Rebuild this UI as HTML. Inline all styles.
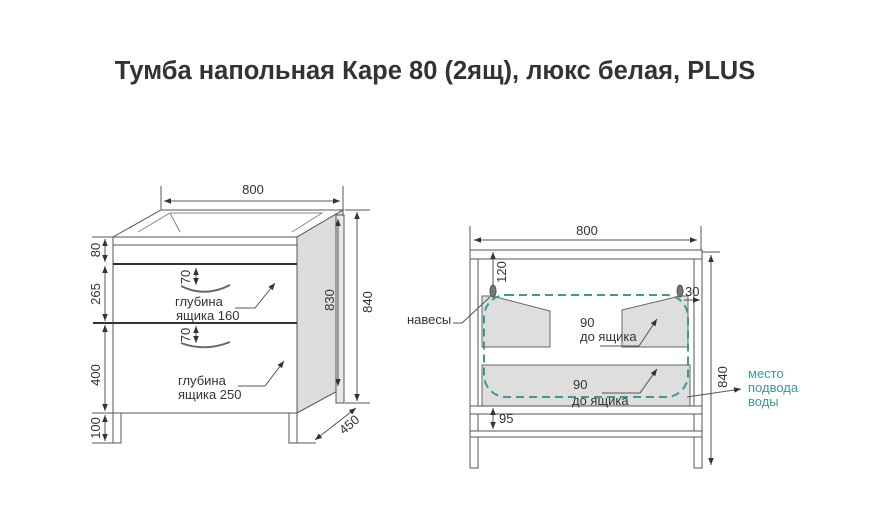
<!DOCTYPE html>
<html><head><meta charset="utf-8"><style>
body{margin:0;background:#fff;width:889px;height:528px;overflow:hidden}
svg{display:block}
text{font-family:"Liberation Sans",sans-serif;fill:#333}
</style></head><body>
<svg width="889" height="528" viewBox="0 0 889 528" xmlns="http://www.w3.org/2000/svg">
<defs>
<marker id="a" viewBox="0 0 10 10" refX="10" refY="5" markerWidth="7" markerHeight="7" orient="auto-start-reverse"><path d="M0,1 L10,5 L0,9 z" fill="#333"/></marker>
</defs>
<text x="435" y="79" font-size="25.5" font-weight="bold" text-anchor="middle" fill="#222">Тумба напольная Каре 80 (2ящ), люкс белая, PLUS</text>

<g stroke="#555" stroke-width="1" fill="none">
<!-- LEFT -->
<line x1="161" y1="186" x2="161" y2="212"/><line x1="343" y1="186" x2="343" y2="212"/>
<line x1="164" y1="201" x2="340" y2="201" marker-start="url(#a)" marker-end="url(#a)"/>
<path d="M113 237 L161 210 L343 210 L297 237 Z" fill="#fff"/>
<path d="M138 232 L170 213 L322 213 L292 232" stroke="#888"/>
<line x1="170" y1="213" x2="180" y2="232" stroke="#888"/>
<path d="M297 237 L343 210 L343 388 L297 413 Z" fill="#dcdcdc"/>
<rect x="336" y="215" width="8" height="188" fill="#e8e8e8"/>
<rect x="113" y="237" width="184" height="176" fill="#fff"/>
<line x1="113" y1="245" x2="297" y2="245"/>
<line x1="113" y1="264" x2="297" y2="264" stroke="#333" stroke-width="2"/>
<line x1="93" y1="323" x2="297" y2="323" stroke="#333" stroke-width="2"/>
<rect x="113" y="413" width="8" height="30" fill="#fff"/>
<rect x="289" y="413" width="8" height="30" fill="#fff"/>
<line x1="92" y1="237" x2="113" y2="237"/><line x1="92" y1="413" x2="113" y2="413"/><line x1="92" y1="443" x2="121" y2="443"/>
<line x1="105" y1="239" x2="105" y2="262" marker-start="url(#a)" marker-end="url(#a)"/>
<line x1="105" y1="266" x2="105" y2="321" marker-start="url(#a)" marker-end="url(#a)"/>
<line x1="105" y1="325" x2="105" y2="411" marker-start="url(#a)" marker-end="url(#a)"/>
<line x1="105" y1="415" x2="105" y2="441" marker-start="url(#a)" marker-end="url(#a)"/>
<line x1="196" y1="268" x2="196" y2="285" marker-start="url(#a)" marker-end="url(#a)"/>
<line x1="196" y1="326" x2="196" y2="343" marker-start="url(#a)" marker-end="url(#a)"/>
<path d="M181 286 Q205 298 230 285" stroke="#666" stroke-width="2"/>
<path d="M181 343 Q205 352 230 342" stroke="#666" stroke-width="2"/>
<path d="M235 308 L255 308 L275 283" marker-end="url(#a)"/>
<path d="M238 386 L265 386 L284 361" marker-end="url(#a)"/>
<line x1="357" y1="212" x2="357" y2="401" marker-start="url(#a)" marker-end="url(#a)"/>
<line x1="345" y1="210" x2="370" y2="210"/><line x1="345" y1="403" x2="370" y2="403"/>
<line x1="338" y1="219" x2="338" y2="386" marker-start="url(#a)" marker-end="url(#a)"/>
<line x1="315" y1="440" x2="356" y2="408" marker-start="url(#a)" marker-end="url(#a)"/>
<line x1="297" y1="443" x2="316" y2="443"/>

<!-- RIGHT -->
<line x1="470" y1="226" x2="470" y2="252"/><line x1="701" y1="226" x2="701" y2="252"/>
<line x1="474" y1="240" x2="697" y2="240" marker-start="url(#a)" marker-end="url(#a)"/>
<rect x="470" y="250" width="232" height="9" fill="#fff"/>
<rect x="470" y="259" width="8" height="209" fill="#fff"/>
<rect x="694" y="259" width="8" height="209" fill="#fff"/>
<path d="M482 296 L492 296 L550 311 L550 347 L482 347 Z" fill="#dedede" stroke="#666"/>
<path d="M622 310 L680 296 L688 296 L688 347 L622 347 Z" fill="#dedede" stroke="#666"/>
<rect x="482" y="365" width="208" height="41" fill="#dedede" stroke="#666"/>
<rect x="470" y="406" width="232" height="8" fill="#fff"/>
<rect x="470" y="431" width="232" height="6" fill="#fff"/>
<rect x="484" y="295" width="204" height="102" rx="22" stroke="#3a9a96" stroke-width="2" stroke-dasharray="8,5"/>
<ellipse cx="493" cy="291" rx="3" ry="6" fill="#777"/>
<ellipse cx="680" cy="291" rx="3" ry="6" fill="#777"/>
<line x1="493" y1="252" x2="493" y2="285" marker-start="url(#a)"/>
<line x1="684" y1="300" x2="700" y2="300" marker-end="url(#a)"/>
<path d="M453 323 L462 323 L490 297"/>
<path d="M600 346 L639 346 L657 319" marker-end="url(#a)"/>
<path d="M602 393 L640 393 L657 369" marker-end="url(#a)"/>
<line x1="493" y1="408" x2="493" y2="429" marker-start="url(#a)" marker-end="url(#a)"/>
<line x1="702" y1="252" x2="720" y2="252"/>
<line x1="711" y1="255" x2="711" y2="465" marker-start="url(#a)" marker-end="url(#a)"/>
<line x1="687" y1="397" x2="741" y2="389" marker-end="url(#a)"/>
</g>

<g font-size="13">
<text x="253" y="194" text-anchor="middle">800</text>
<text transform="translate(100,250) rotate(-90)" text-anchor="middle">80</text>
<text transform="translate(100,294) rotate(-90)" text-anchor="middle">265</text>
<text transform="translate(100,375) rotate(-90)" text-anchor="middle">400</text>
<text transform="translate(100,428) rotate(-90)" text-anchor="middle">100</text>
<text transform="translate(190,277) rotate(-90)" text-anchor="middle">70</text>
<text transform="translate(190,335) rotate(-90)" text-anchor="middle">70</text>
<text x="175" y="306">глубина</text>
<text x="176" y="320">ящика 160</text>
<text x="178" y="385">глубина</text>
<text x="178" y="399">ящика 250</text>
<text transform="translate(334,300) rotate(-90)" text-anchor="middle">830</text>
<text transform="translate(372,302) rotate(-90)" text-anchor="middle">840</text>
<text transform="translate(352,428) rotate(-40)" text-anchor="middle">450</text>

<text x="587" y="235" text-anchor="middle">800</text>
<text transform="translate(506,272) rotate(-90)" text-anchor="middle">120</text>
<text x="685" y="296">30</text>
<text x="407" y="324">навесы</text>
<text x="580" y="327">90</text>
<text x="580" y="341">до ящика</text>
<text x="573" y="389">90</text>
<text x="572" y="405">до ящика</text>
<text x="499" y="423">95</text>
<text transform="translate(727,377) rotate(-90)" text-anchor="middle">840</text>
<text x="748" y="378" style="fill:#3a9a96">место</text>
<text x="748" y="392" style="fill:#3a9a96">подвода</text>
<text x="748" y="406" style="fill:#3a9a96">воды</text>
</g>
</svg>
</body></html>
